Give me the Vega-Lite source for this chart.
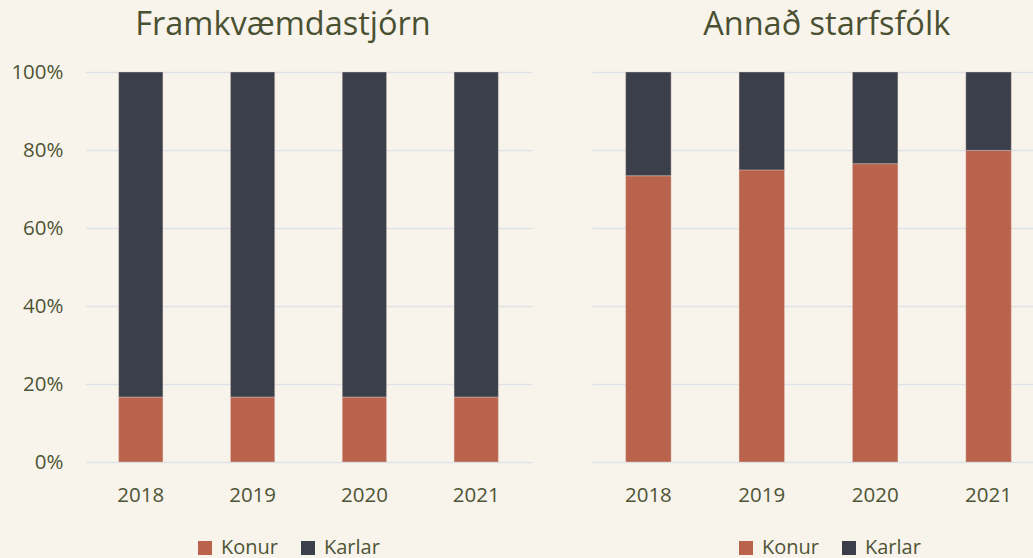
{
  "$schema": "https://vega.github.io/schema/vega-lite/v6.json",
  "background": "#F8F4EC",
  "padding": {"left": 10, "top": 8, "right": 0, "bottom": 0},
  "datasets": {
    "stjorn": [
      {"year": "2018", "kyn": "Konur", "hlutfall": 0.1667},
      {"year": "2018", "kyn": "Karlar", "hlutfall": 0.8333},
      {"year": "2019", "kyn": "Konur", "hlutfall": 0.1667},
      {"year": "2019", "kyn": "Karlar", "hlutfall": 0.8333},
      {"year": "2020", "kyn": "Konur", "hlutfall": 0.1667},
      {"year": "2020", "kyn": "Karlar", "hlutfall": 0.8333},
      {"year": "2021", "kyn": "Konur", "hlutfall": 0.1667},
      {"year": "2021", "kyn": "Karlar", "hlutfall": 0.8333}
    ],
    "annad": [
      {"year": "2018", "kyn": "Konur", "hlutfall": 0.734},
      {"year": "2018", "kyn": "Karlar", "hlutfall": 0.266},
      {"year": "2019", "kyn": "Konur", "hlutfall": 0.749},
      {"year": "2019", "kyn": "Karlar", "hlutfall": 0.251},
      {"year": "2020", "kyn": "Konur", "hlutfall": 0.765},
      {"year": "2020", "kyn": "Karlar", "hlutfall": 0.235},
      {"year": "2021", "kyn": "Konur", "hlutfall": 0.799},
      {"year": "2021", "kyn": "Karlar", "hlutfall": 0.201}
    ]
  },
  "config": {
    "font": "Open Sans",
    "view": {"stroke": null},
    "title": {"fontSize": 32.5, "fontWeight": "normal", "color": "#4A5132", "baseline": "alphabetic", "offset": 20.75, "anchor": "middle", "frame": "group"},
    "axis": {"labelFont": "Open Sans", "labelFontSize": 20.5, "labelColor": "#4E5435", "ticks": false, "domain": false, "title": null, "gridColor": "#DEE1E6", "gridWidth": 1.5},
    "legend": {"labelFont": "Open Sans", "labelFontSize": 20, "labelColor": "#4E5435", "symbolType": "square", "symbolSize": 196, "symbolStrokeWidth": 0, "labelOffset": 6, "columnPadding": 20, "padding": 0, "title": null},
    "concat": {"spacing": 7}
  },
  "resolve": {"legend": {"color": "independent"}, "scale": {"color": "independent"}},
  "hconcat": [
    {
      "width": 447,
      "height": 390,
      "title": {"text": "Framkvæmdastjórn", "dx": -25.5},
      "data": {"name": "stjorn"},
      "mark": {"type": "bar", "stroke": "#E8D5CC", "strokeWidth": 0.8, "strokeOpacity": 0.5},
      "encoding": {
        "x": {"field": "year", "type": "ordinal", "scale": {"paddingInner": 0.604, "paddingOuter": 0.301}, "axis": {"labelAngle": 0, "labelPadding": 23, "grid": false}},
        "y": {"field": "hlutfall", "type": "quantitative", "stack": "zero", "scale": {"domain": [0, 1], "nice": false}, "axis": {"format": ".0%", "values": [0, 0.2, 0.4, 0.6, 0.8, 1], "labelPadding": 22, "grid": true}},
        "color": {"field": "kyn", "type": "nominal", "scale": {"domain": ["Konur", "Karlar"], "range": ["#B9634C", "#3A3F4A"]}, "legend": {"orient": "none", "direction": "horizontal", "legendX": 110, "legendY": 466}},
        "order": {"field": "kyn", "sort": "descending"}
      }
    },
    {
      "width": 442,
      "height": 390,
      "title": {"text": "Annað starfsfólk", "dx": 13.7},
      "data": {"name": "annad"},
      "mark": {"type": "bar", "stroke": "#E8D5CC", "strokeWidth": 0.8, "strokeOpacity": 0.5},
      "encoding": {
        "x": {"field": "year", "type": "ordinal", "scale": {"paddingInner": 0.599, "paddingOuter": 0.2485, "align": 0.597}, "axis": {"labelAngle": 0, "labelPadding": 23, "grid": false}},
        "y": {"field": "hlutfall", "type": "quantitative", "stack": "zero", "scale": {"domain": [0, 1], "nice": false}, "axis": {"format": ".0%", "values": [0, 0.2, 0.4, 0.6, 0.8, 1], "labelOpacity": 0, "grid": true, "labelPadding": 0}},
        "color": {"field": "kyn", "type": "nominal", "scale": {"domain": ["Konur", "Karlar"], "range": ["#B9634C", "#3A3F4A"]}, "legend": {"orient": "none", "direction": "horizontal", "legendX": 144, "legendY": 466}},
        "order": {"field": "kyn", "sort": "descending"}
      }
    }
  ]
}
